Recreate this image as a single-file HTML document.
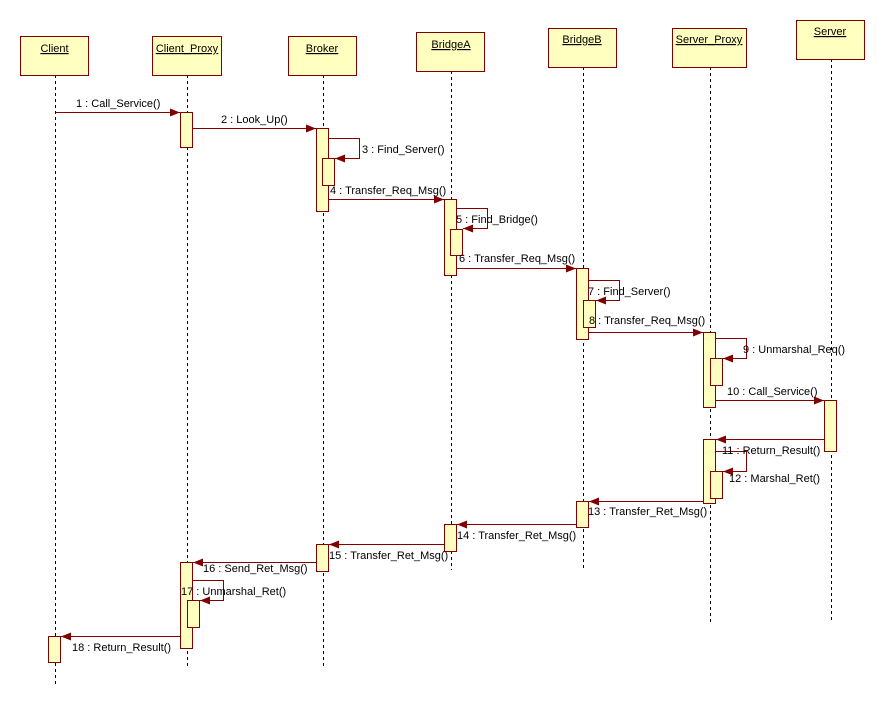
<!DOCTYPE html>
<html><head><meta charset="utf-8"><style>
html,body{margin:0;padding:0;background:#fff}
svg{display:block}
text{font-family:"Liberation Sans",sans-serif;font-size:11px;fill:#000}
</style></head><body>
<svg width="885" height="704" viewBox="0 0 885 704" xmlns="http://www.w3.org/2000/svg">
<defs>
<marker id="a" markerWidth="10" markerHeight="8" refX="10" refY="4" orient="auto" markerUnits="userSpaceOnUse"><path d="M0,0 L10,4 L0,8 z" fill="#800000"/></marker>
</defs>
<g stroke="#000" stroke-width="1" stroke-dasharray="3,3" fill="none">
<line x1="55.5" y1="75" x2="55.5" y2="685"/>
<line x1="187.5" y1="75" x2="187.5" y2="667"/>
<line x1="323.5" y1="75" x2="323.5" y2="667"/>
<line x1="451.5" y1="71" x2="451.5" y2="570"/>
<line x1="583.5" y1="67" x2="583.5" y2="570"/>
<line x1="710.5" y1="67" x2="710.5" y2="622"/>
<line x1="831.5" y1="59" x2="831.5" y2="622"/>
</g>
<g fill="#ffffc0" stroke="#800000" stroke-width="1">
<rect x="20.5" y="36.5" width="68" height="39"/>
<rect x="152.5" y="36.5" width="69" height="39"/>
<rect x="288.5" y="36.5" width="68" height="39"/>
<rect x="416.5" y="32.5" width="68" height="39"/>
<rect x="548.5" y="28.5" width="68" height="39"/>
<rect x="672.5" y="28.5" width="74" height="39"/>
<rect x="796.5" y="20.5" width="68" height="39"/>
</g>
<g text-anchor="middle" text-decoration="underline">
<text x="54.5" y="52" text-decoration="underline">Client</text>
<text x="187" y="52" text-decoration="underline">Client_Proxy</text>
<text x="322" y="52" text-decoration="underline">Broker</text>
<text x="451" y="48" text-decoration="underline">BridgeA</text>
<text x="582" y="43" text-decoration="underline">BridgeB</text>
<text x="709" y="43" text-decoration="underline">Server_Proxy</text>
<text x="830" y="35" text-decoration="underline">Server</text>
</g>
<g fill="#ffffc0" stroke="#800000" stroke-width="1">
<rect x="180.5" y="112.5" width="12" height="35"/>
<rect x="316.5" y="128.5" width="12" height="83"/>
<rect x="322.5" y="158.5" width="12" height="27"/>
<rect x="444.5" y="199.5" width="12" height="76"/>
<rect x="450.5" y="229.5" width="12" height="26"/>
<rect x="576.5" y="268.5" width="12" height="71"/>
<rect x="583.5" y="300.5" width="12" height="27"/>
<rect x="703.5" y="332.5" width="12" height="75"/>
<rect x="710.5" y="358.5" width="12" height="27"/>
<rect x="824.5" y="400.5" width="12" height="51"/>
<rect x="703.5" y="439.5" width="12" height="64"/>
<rect x="710.5" y="471.5" width="12" height="27"/>
<rect x="576.5" y="501.5" width="12" height="26"/>
<rect x="444.5" y="524.5" width="12" height="27"/>
<rect x="316.5" y="544.5" width="12" height="27"/>
<rect x="180.5" y="562.5" width="12" height="86"/>
<rect x="187.5" y="600.5" width="12" height="27"/>
<rect x="48.5" y="636.5" width="12" height="26"/>
</g>
<g stroke="#800000" stroke-width="1" fill="none" marker-end="url(#a)">
<line x1="56" y1="112.5" x2="180" y2="112.5"/>
<line x1="193" y1="128.5" x2="316" y2="128.5"/>
<polyline points="329,138.5 359.5,138.5 359.5,158.5 335,158.5"/>
<line x1="329" y1="199.5" x2="444" y2="199.5"/>
<polyline points="457,208.5 487.5,208.5 487.5,228.5 463,228.5"/>
<line x1="457" y1="268.5" x2="576" y2="268.5"/>
<polyline points="589,280.5 619.5,280.5 619.5,300.5 596,300.5"/>
<line x1="589" y1="332.5" x2="703" y2="332.5"/>
<polyline points="716,338.5 746.5,338.5 746.5,358.5 723,358.5"/>
<line x1="716" y1="400.5" x2="824" y2="400.5"/>
<line x1="824" y1="439.5" x2="716" y2="439.5"/>
<polyline points="716,451.5 746.5,451.5 746.5,471.5 723,471.5"/>
<line x1="703" y1="501.5" x2="589" y2="501.5"/>
<line x1="576" y1="524.5" x2="457" y2="524.5"/>
<line x1="444" y1="544.5" x2="329" y2="544.5"/>
<line x1="316" y1="562.5" x2="193" y2="562.5"/>
<polyline points="193,580.5 223.5,580.5 223.5,600.5 200,600.5"/>
<line x1="180" y1="636.5" x2="61" y2="636.5"/>
</g>
<g>
<text x="76" y="107">1 : Call_Service()</text>
<text x="221" y="123">2 : Look_Up()</text>
<text x="362" y="153">3 : Find_Server()</text>
<text x="330" y="194">4 : Transfer_Req_Msg()</text>
<text x="456" y="223">5 : Find_Bridge()</text>
<text x="459" y="262">6 : Transfer_Req_Msg()</text>
<text x="588" y="295">7 : Find_Server()</text>
<text x="589" y="324">8 : Transfer_Req_Msg()</text>
<text x="743" y="353">9 : Unmarshal_Req()</text>
<text x="727" y="395">10 : Call_Service()</text>
<text x="722" y="454">11 : Return_Result()</text>
<text x="729" y="482">12 : Marshal_Ret()</text>
<text x="588" y="515">13 : Transfer_Ret_Msg()</text>
<text x="457" y="539">14 : Transfer_Ret_Msg()</text>
<text x="329" y="559">15 : Transfer_Ret_Msg()</text>
<text x="203" y="572">16 : Send_Ret_Msg()</text>
<text x="181" y="595">17 : Unmarshal_Ret()</text>
<text x="72" y="651">18 : Return_Result()</text>
</g>
</svg>
</body></html>
